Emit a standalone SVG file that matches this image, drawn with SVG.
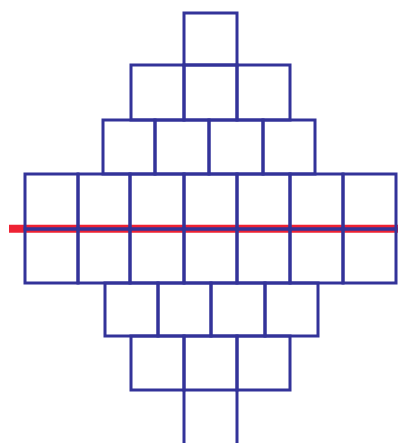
<svg xmlns="http://www.w3.org/2000/svg" width="398" height="443" viewBox="0 0 398 443">
<style>
.c rect{fill:none;stroke:#333399;stroke-width:3}
.l{stroke:#333399;stroke-width:3;fill:none}
.r{stroke:#ee2233;stroke-width:8}
</style>
<rect width="398" height="443" fill="#fff"/>
<g id="connectors">
<line class="r" x1="9" y1="228.7" x2="398" y2="228.7"/>
<line class="l" x1="184" y1="390" x2="184" y2="445"/>
<line class="l" x1="237" y1="390" x2="237" y2="445"/>
</g>
<g class="c">
<g id="r1"><rect x="184" y="13" width="53" height="52"/></g>
<g id="r2">
<rect x="131" y="65" width="53" height="55"/>
<rect x="184" y="65" width="53" height="55"/>
<rect x="237" y="65" width="53" height="55"/>
</g>
<g id="r3">
<rect x="103" y="120" width="52" height="54"/>
<rect x="155" y="120" width="54" height="54"/>
<rect x="209" y="120" width="54" height="54"/>
<rect x="263" y="120" width="52" height="54"/>
</g>
<g id="r4">
<rect x="25" y="174" width="53" height="55"/>
<rect x="78" y="174" width="52" height="55"/>
<rect x="130" y="174" width="54" height="55"/>
<rect x="184" y="174" width="53" height="55"/>
<rect x="237" y="174" width="53" height="55"/>
<rect x="290" y="174" width="53" height="55"/>
<rect x="343" y="174" width="53" height="55"/>
</g>
<g id="r5">
<rect x="25" y="229" width="53" height="54"/>
<rect x="78" y="229" width="52" height="54"/>
<rect x="130" y="229" width="54" height="54"/>
<rect x="184" y="229" width="53" height="54"/>
<rect x="237" y="229" width="53" height="54"/>
<rect x="290" y="229" width="53" height="54"/>
<rect x="343" y="229" width="53" height="54"/>
</g>
<g id="r6">
<rect x="105" y="283" width="53" height="53"/>
<rect x="158" y="283" width="53" height="53"/>
<rect x="211" y="283" width="54" height="53"/>
<rect x="265" y="283" width="53" height="53"/>
</g>
<g id="r7">
<rect x="131" y="336" width="53" height="54"/>
<rect x="184" y="336" width="53" height="54"/>
<rect x="237" y="336" width="53" height="54"/>
</g>
</g>
</svg>
